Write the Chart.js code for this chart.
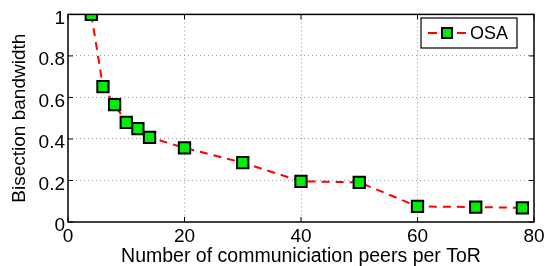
<!DOCTYPE html>
<html>
<head>
<meta charset="utf-8">
<script src="https://cdn.jsdelivr.net/npm/chart.js@4"></script>
<style>
  html, body { margin: 0; padding: 0; background: #fff; }
  #wrap { width: 550px; height: 266px; position: relative; }
</style>
</head>
<body>
<div id="wrap"><canvas id="chart"></canvas></div>
<script>
// data
const peers = [4, 6, 8, 10, 12, 14, 20, 30, 40, 50, 60, 70, 78];
const osaBandwidth = [1.0, 0.652, 0.565, 0.48, 0.45, 0.408, 0.357, 0.286, 0.196, 0.191, 0.075, 0.072, 0.068];
const xTicks = [0, 20, 40, 60, 80];
const yTicks = [0, 0.2, 0.4, 0.6, 0.8, 1];
const seriesLabel = 'OSA';
const xTitle = 'Number of communiciation peers per ToR';
const yTitle = 'Bisection bandwidth';

const FONT = '"Liberation Sans", Arial, sans-serif';

// frame, inward ticks and the legend box, matlab style
const framePlugin = {
    id: 'frame',
    afterDraw(chart) {
        const { ctx, chartArea: a, scales } = chart;
        ctx.save();
        ctx.strokeStyle = '#000';
        ctx.lineWidth = 1.5;
        ctx.setLineDash([]);
        ctx.strokeRect(a.left, a.top, a.right - a.left, a.bottom - a.top);
        ctx.lineWidth = 1;
        xTicks.forEach(v => {
            const x = scales.x.getPixelForValue(v);
            ctx.beginPath();
            ctx.moveTo(x, a.bottom); ctx.lineTo(x, a.bottom - 5);
            ctx.moveTo(x, a.top); ctx.lineTo(x, a.top + 5);
            ctx.stroke();
        });
        yTicks.forEach(v => {
            const y = scales.y.getPixelForValue(v);
            ctx.beginPath();
            ctx.moveTo(a.left, y); ctx.lineTo(a.left + 5, y);
            ctx.moveTo(a.right, y); ctx.lineTo(a.right - 5, y);
            ctx.stroke();
        });

        // legend
        const bx = 421, by = 18, bw = 96, bh = 30;
        ctx.fillStyle = '#fff';
        ctx.fillRect(bx, by, bw, bh);
        ctx.lineWidth = 1.2;
        ctx.strokeRect(bx, by, bw, bh);
        const cy = by + bh / 2;
        ctx.strokeStyle = '#ff0000';
        ctx.lineWidth = 2;
        ctx.beginPath();
        ctx.moveTo(bx + 7, cy); ctx.lineTo(bx + 16, cy);
        ctx.moveTo(bx + 36, cy); ctx.lineTo(bx + 45, cy);
        ctx.stroke();
        ctx.fillStyle = '#00ee00';
        ctx.strokeStyle = '#000';
        ctx.lineWidth = 2;
        ctx.fillRect(bx + 21, cy - 5, 10, 10);
        ctx.strokeRect(bx + 21, cy - 5, 10, 10);
        ctx.fillStyle = '#000';
        ctx.font = '18px ' + FONT;
        ctx.textBaseline = 'middle';
        ctx.fillText(seriesLabel, bx + 49, cy + 1);
        ctx.restore();
    }
};

new Chart(document.getElementById('chart'), {
    type: 'line',
    data: {
        datasets: [{
            label: seriesLabel,
            data: peers.map((p, i) => ({ x: p, y: osaBandwidth[i] })),
            borderColor: '#ff0000',
            borderWidth: 2,
            borderDash: [8, 6],
            backgroundColor: '#00ee00',
            pointStyle: 'rect',
            pointRadius: 8,
            pointBorderColor: '#000',
            pointBorderWidth: 2,
            tension: 0,
        }]
    },
    options: {
        responsive: true,
        maintainAspectRatio: false,
        animation: false,
        layout: { padding: { top: 13, right: 16, left: 0, bottom: 0 } },
        plugins: { legend: { display: false }, tooltip: { enabled: false } },
        scales: {
            x: {
                type: 'linear',
                min: 0, max: 80,
                afterBuildTicks: s => { s.ticks = xTicks.map(v => ({ value: v })); },
                afterFit: s => { s.height = 44; },
                grid: {
                    color: ctx => (ctx.tick && (ctx.tick.value === 0 || ctx.tick.value === 80)) ? 'rgba(0,0,0,0)' : '#999',
                    lineWidth: 1,
                    drawTicks: false,
                },
                border: { display: false, dash: [1, 3] },
                ticks: { color: '#000', font: { family: FONT, size: 19 }, padding: 3, maxRotation: 0 },
                title: { display: true, text: xTitle, color: '#000', font: { family: FONT, size: 19.5 }, padding: { top: 0, bottom: -2 } },
            },
            y: {
                min: 0, max: 1,
                afterBuildTicks: s => { s.ticks = yTicks.map(v => ({ value: v })); },
                afterFit: s => { s.width = 68; },
                grid: {
                    color: ctx => (ctx.tick && (ctx.tick.value === 0 || ctx.tick.value === 1)) ? 'rgba(0,0,0,0)' : '#999',
                    lineWidth: 1,
                    drawTicks: false,
                },
                border: { display: false, dash: [1, 3] },
                ticks: { color: '#000', font: { family: FONT, size: 19 }, padding: 3, labelOffset: 4, callback: v => String(v) },
                title: { display: true, text: yTitle, color: '#000', font: { family: FONT, size: 19 }, padding: { top: 8, bottom: 0 } },
            }
        }
    },
    plugins: [framePlugin]
});
</script>
</body>
</html>
